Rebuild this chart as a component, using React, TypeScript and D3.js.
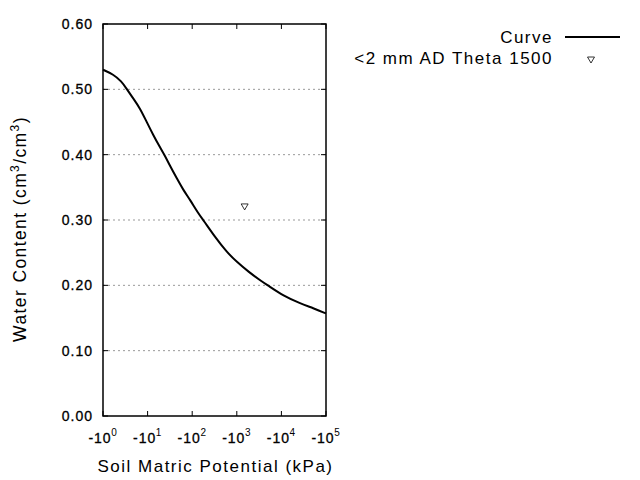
import React from "react";
import * as d3 from "d3";

const curveH = [1, 1.7, 2.62, 3.28, 4.78, 6.76, 9.55, 13.4, 19.0, 23.7, 31.8, 44.9, 63.1, 89.3, 137, 177, 324, 594, 995, 1811, 3614, 5080, 11040, 26120, 51900, 100000];
const curveTheta = [0.530, 0.523, 0.512, 0.502, 0.486, 0.471, 0.450, 0.430, 0.411, 0.400, 0.383, 0.364, 0.346, 0.331, 0.310, 0.300, 0.274, 0.251, 0.236, 0.221, 0.206, 0.1995, 0.184, 0.1725, 0.165, 0.157];
const pointH = [1500];
const pointTheta = [0.32];
const xExponents = [0, 1, 2, 3, 4, 5];
const yTicks = [0, 0.1, 0.2, 0.3, 0.4, 0.5, 0.6];
const gridTicks = [0.1, 0.2, 0.3, 0.4, 0.5];
const legendLabels = ["Curve", "<2 mm AD Theta 1500"];

const W = 640, H = 480;
const L = 103, R = 326, T = 24, B = 416;
const font = "'Liberation Sans', Arial, sans-serif";

export default function App() {
  const x = d3.scaleLog().domain([1, 1e5]).range([L, R]);
  const y = d3.scaleLinear().domain([0, 0.6]).range([B, T]);
  const line = d3.line<number>()
    .x((_, i) => x(curveH[i]))
    .y((d) => y(d))
    .curve(d3.curveBasis);
  const tri = (cx: number, cy: number) => `M${cx - 3.5},${cy - 3} L${cx + 3.5},${cy - 3} L${cx},${cy + 3} Z`;
  return (
    <svg width={W} height={H} style={{ position: "absolute", left: 0, top: 0, background: "#fff" }}>
      <rect x={0} y={0} width={W} height={H} fill="#fff" />
      {gridTicks.map((t) => (
        <line key={t} x1={L} x2={R} y1={y(t)} y2={y(t)} stroke="#999" strokeWidth={1} strokeDasharray="2,3" />
      ))}
      <path d={line(curveTheta) || ""} fill="none" stroke="#000" strokeWidth={2} />
      {pointH.map((h, i) => (
        <path key={i} d={tri(x(h), y(pointTheta[i]))} fill="#fff" stroke="#000" strokeWidth={0.8} />
      ))}
      <rect x={L} y={T} width={R - L} height={B - T} fill="none" stroke="#000" strokeWidth={1.5} />
      {xExponents.map((e) => (
        <g key={e}>
          <line x1={x(10 ** e)} x2={x(10 ** e)} y1={B} y2={B - 5} stroke="#000" strokeWidth={1} />
          <line x1={x(10 ** e)} x2={x(10 ** e)} y1={T} y2={T + 5} stroke="#000" strokeWidth={1} />
          <text x={x(10 ** e) - 3} y={443} textAnchor="middle" fontFamily={font} fontSize={14} letterSpacing={1} fill="#000" stroke="#000" strokeWidth={0.3}>
            -10
          </text>
          <text x={x(10 ** e) + 11} y={436} textAnchor="middle" fontFamily={font} fontSize={10} fill="#000">
            {e}
          </text>
        </g>
      ))}
      {yTicks.map((t) => (
        <g key={t}>
          <line x1={L} x2={L + 5} y1={y(t)} y2={y(t)} stroke="#000" strokeWidth={1} />
          <line x1={R} x2={R - 5} y1={y(t)} y2={y(t)} stroke="#000" strokeWidth={1} />
          <text x={93} y={y(t) + 5} textAnchor="end" fontFamily={font} fontSize={14} letterSpacing={1} fill="#000" stroke="#000" strokeWidth={0.3}>
            {t.toFixed(2)}
          </text>
        </g>
      ))}
      <text x={(L + R) / 2 + 1} y={472} textAnchor="middle" fontFamily={font} fontSize={17} letterSpacing={1.5} fill="#000">
        Soil Matric Potential (kPa)
      </text>
      <text transform={`translate(26,229) rotate(-90)`} textAnchor="middle" fontFamily={font} fontSize={17.5} letterSpacing={1.4} fill="#000">
        Water Content (cm<tspan dy={-7} fontSize={12}>3</tspan><tspan dy={7}>/cm</tspan><tspan dy={-7} fontSize={12}>3</tspan><tspan dy={7}>)</tspan>
      </text>
      <text x={553} y={43} textAnchor="end" fontFamily={font} fontSize={17} letterSpacing={1.5} fill="#000">{legendLabels[0]}</text>
      <line x1={565} x2={620} y1={37} y2={37} stroke="#000" strokeWidth={2} />
      <text x={553} y={64} textAnchor="end" fontFamily={font} fontSize={17} letterSpacing={1.5} fill="#000">{legendLabels[1]}</text>
      <path d={tri(591, 60)} fill="#fff" stroke="#000" strokeWidth={0.8} />
    </svg>
  );
}
